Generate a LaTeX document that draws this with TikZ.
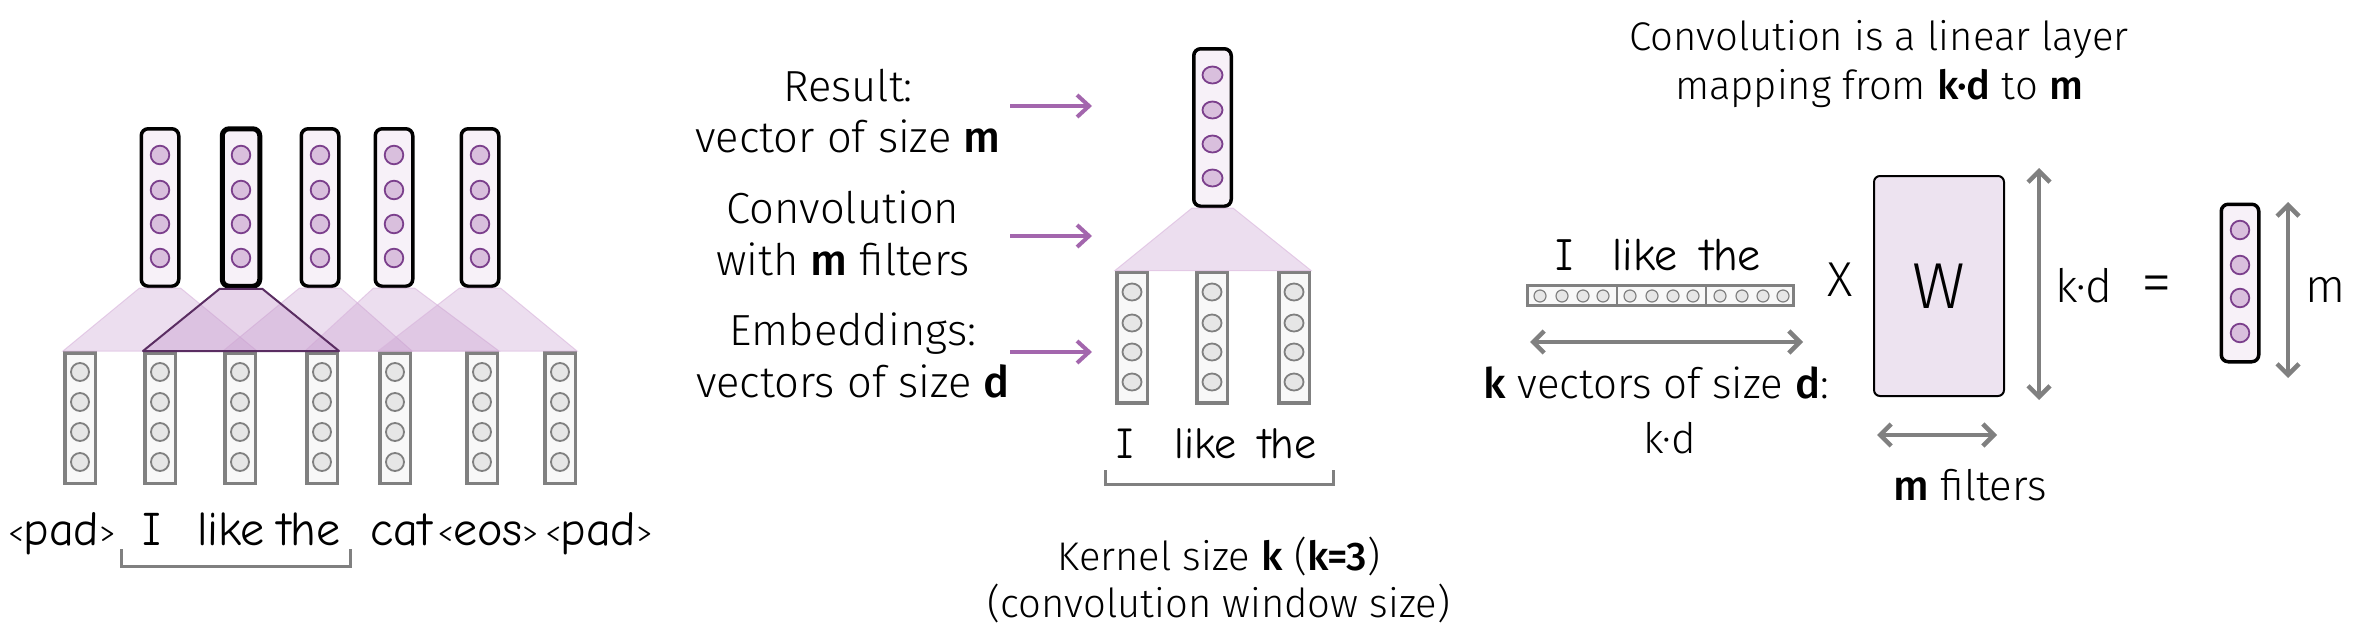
\documentclass[tikz,border=0pt]{standalone}
\usepackage{fontspec}
\usepackage{graphicx}
\IfFontExistsTF{Fira Sans Light}
  {\IfFontExistsTF{Fira Sans Medium}
     {\setmainfont{Fira Sans Light}[BoldFont={Fira Sans Medium}]}
     {\setmainfont{Fira Sans Light}[BoldFont={Fira Sans}]}}
  {\setmainfont{Fira Sans}}
\IfFontExistsTF{Comic Neue}
  {\newfontfamily\comicfont{Comic Neue}[BoldFont={* Bold}]\newcommand\cxs{1}}
  {\newfontfamily\comicfont{Poppins}\newcommand\cxs{0.86}}
\usetikzlibrary{arrows.meta}
\definecolor{pfill}{HTML}{F7F1F8}
\definecolor{pcircfill}{HTML}{D9BFDD}
\definecolor{pcircdraw}{HTML}{7B3F8C}
\definecolor{gdraw}{HTML}{808080}
\definecolor{gfill}{HTML}{F8F8F8}
\definecolor{gcircfill}{HTML}{E6E6E6}
\definecolor{trap}{HTML}{C9A0D0}
\definecolor{trapedge}{HTML}{D8B4DC}
\definecolor{hiedge}{HTML}{5A2D62}
\definecolor{arrowp}{HTML}{A366AD}
\definecolor{wfill}{HTML}{EDE3F0}
\newcommand\myfs[1]{\fontsize{#1}{#1}\selectfont}
\newcommand\cw[2]{\scalebox{\cxs}[1]{\comicfont\myfs{#1}#2}}
\newcommand\mylt{\raisebox{0.07em}{\scalebox{0.62}{<}}}
\newcommand\mygt{\raisebox{0.07em}{\scalebox{0.62}{>}}}
\begin{document}
\begin{tikzpicture}[x=1pt,y=-1pt,
  topvec/.style={rectangle,draw=black,line width=3.5pt,fill=pfill,rounded corners=7pt,minimum width=37.5pt,minimum height=157.5pt,inner sep=0pt},
  botvec/.style={rectangle,draw=gdraw,line width=3.5pt,fill=gfill,minimum width=30.5pt,minimum height=130.5pt,inner sep=0pt},
  pcirc/.style={draw=pcircdraw,fill=pcircfill,line width=1.8pt},
  gcirc/.style={draw=gdraw,fill=gcircfill,line width=1.8pt},
  trapez/.style={fill=trap,fill opacity=.35,draw=trapedge,draw opacity=.6,line width=1pt},
  hitrap/.style={fill=trap,fill opacity=.45,draw=hiedge,line width=2pt,line join=round},
  lbl/.style={anchor=base,inner sep=0pt,font=\myfs{43.5}},
  word/.style={anchor=base,inner sep=0pt},
  parrow/.style={draw=arrowp,line width=4pt,-{Straight Barb[length=12pt,width=22pt]}},
  garrow/.style={draw=gdraw,line width=4.5pt,{Straight Barb[length=11pt,width=22pt]}-{Straight Barb[length=11pt,width=22pt]}},
  bracket/.style={draw=gdraw,line width=3pt}
]
\useasboundingbox (0,0) rectangle (2354,638);

% ---------------- left part ----------------
\foreach \i/\x in {1/80,2/160,3/240,4/322,5/395,6/482,7/560}
  \node[botvec] (bv\i) at (\x,418) {};
\foreach \i/\x in {1/160,2/241,3/320,4/394,5/480}
  \node[topvec] (tv\i) at (\x,207.5) {};
\node[topvec,line width=5pt] (tv2) at (241,207.5) {};

\foreach \i/\a/\b in {1/1/3,3/3/5,4/4/6,5/5/7}
  \path[trapez] (tv\i.south west) -- (tv\i.south east) -- (bv\b.north east) -- (bv\a.north west) -- cycle;
\path[hitrap] (tv2.south west) -- (tv2.south east) -- (bv4.north east) -- (bv2.north west) -- cycle;

\foreach \x in {80,160,240,322,395,482,560}
  \foreach \y in {372,402,432,462}
    \draw[gcirc] (\x,\y) circle[radius=9pt];
\foreach \x in {160,241,320,394,480}
  \foreach \y in {155,190,224,258}
    \draw[pcirc] (\x,\y) circle[radius=9.3pt];

\node[word] (lw1) at (62,545) {\cw{48}{\mylt pad\mygt}};
\node[word] (lw2) at (152,545) {\cw{48}{I}};
\node[word] (lw3) at (231,545) {\cw{48}{like}};
\node[word] (lw4) at (309,545) {\cw{48}{the}};
\node[word] (lw5) at (401,545) {\cw{48}{cat}};
\node[word] (lw6) at (488,545) {\cw{48}{\mylt eos\mygt}};
\node[word] (lw7) at (599,545) {\cw{48}{\mylt pad\mygt}};

\coordinate (b1a) at (121,549); \coordinate (b1b) at (350,549);
\draw[bracket] (b1a) -- ++(0,17) -| (b1b);

% ---------------- middle part ----------------
\node[lbl] (r1) at (848,101) {Result:};
\node[lbl] (r2) at (848,152) {vector of size \textbf{m}};
\node[lbl] (c1) at (843,223) {Convolution};
\node[lbl] (c2) at (843,275) {with \textbf{m} filters};
\node[lbl] (e1) at (853,345) {Embeddings:};
\node[lbl] (e2) at (853,397) {vectors of size \textbf{d}};

\coordinate (a1s) at (1010,106); \coordinate (a1e) at (1092,106);
\coordinate (a2s) at (1010,236); \coordinate (a2e) at (1092,236);
\coordinate (a3s) at (1010,352); \coordinate (a3e) at (1092,352);
\draw[parrow] (a1s) -- (a1e);
\draw[parrow] (a2s) -- (a2e);
\draw[parrow] (a3s) -- (a3e);

\foreach \i/\x in {1/1132,2/1212,3/1294}
  \node[botvec] (mb\i) at (\x,337.5) {};
\node[topvec] (mt) at (1212.5,127.5) {};
\path[trapez] (mt.south west) -- (mt.south east) -- (mb3.north east) -- (mb1.north west) -- cycle;
\foreach \x in {1132,1212,1294}
  \foreach \y in {292,323,352,382}
    \draw[gcirc] (\x,\y) ellipse[x radius=9.5pt,y radius=8.5pt];
\foreach \y in {75,110,144,178}
  \draw[pcirc] (1212.5,\y) ellipse[x radius=10pt,y radius=8.5pt];

\node[word] (mw1) at (1125,458) {\cw{44}{I}};
\node[word] (mw2) at (1205.5,458) {\cw{44}{like}};
\node[word] (mw3) at (1287.5,458) {\cw{44}{the}};
\coordinate (b2a) at (1105,470); \coordinate (b2b) at (1333,470);
\draw[bracket] (b2a) -- ++(0,14) -| (b2b);

\node[anchor=base,inner sep=0pt,font=\myfs{40}] (k1) at (1219,570) {Kernel size \textbf{k} (\textbf{k=3})};
\node[anchor=base,inner sep=0pt,font=\myfs{40}] (k2) at (1219,617) {(convolution window size)};

% ---------------- right part ----------------
\node[anchor=base,inner sep=0pt,font=\myfs{40}] (t1) at (1879,50) {Convolution is a linear layer};
\node[anchor=base,inner sep=0pt,font=\myfs{40}] (t2) at (1879,99) {mapping from \textbf{k·d} to \textbf{m}};

\node[word] (rw1) at (1564,270) {\cw{46}{I}};
\node[word] (rw2) at (1645,270) {\cw{46}{like}};
\node[word] (rw3) at (1730.5,270) {\cw{46}{the}};

\node[rectangle,draw=gdraw,line width=3pt,fill=gfill,minimum width=266pt,minimum height=20pt,inner sep=0pt] (lv) at (1660.5,295.5) {};
\coordinate (d1a) at (1617,285.5); \coordinate (d1b) at (1617,305.5);
\coordinate (d2a) at (1706,285.5); \coordinate (d2b) at (1706,305.5);
\draw[draw=gdraw,line width=2.5pt] (d1a) -- (d1b);
\draw[draw=gdraw,line width=2.5pt] (d2a) -- (d2b);
\foreach \x in {1540,1562,1583,1603,1630,1652,1673,1693,1720,1742,1763,1783}
  \draw[draw=gdraw,fill=gcircfill,line width=1.2pt] (\x,296) circle[radius=6pt];

\coordinate (h1a) at (1530,342); \coordinate (h1b) at (1803,342);
\draw[garrow] (h1a) -- (h1b);
\node[anchor=base,inner sep=0pt,font=\myfs{42}] (kv) at (1656,398) {\textbf{k} vectors of size \textbf{d}:};
\node[anchor=base,inner sep=0pt,font=\myfs{42}] (kd1) at (1670,453) {k·d};

\node[inner sep=0pt,font=\myfs{49}] (X) at (1840,280) {X};
\node[rectangle,draw=black,line width=2pt,fill=wfill,rounded corners=6pt,minimum width=130pt,minimum height=220pt,inner sep=0pt,font=\myfs{65}] (W) at (1939,286) {W};

\coordinate (v1a) at (2039,168); \coordinate (v1b) at (2039,400);
\draw[garrow] (v1a) -- (v1b);
\node[anchor=base west,inner sep=0pt,font=\myfs{46}] (kd2) at (2055,302) {k·d};

\coordinate (h2a) at (1877,435); \coordinate (h2b) at (1997,435);
\draw[garrow] (h2a) -- (h2b);
\node[anchor=base,inner sep=0pt,font=\myfs{42}] (mf) at (1970,500) {\textbf{m} filters};

\node[inner sep=0pt,font=\myfs{62}] (eq) at (2157,290) {=};
\node[topvec] (rv) at (2240,283) {};
\foreach \y in {230,265,298,333}
  \draw[pcirc] (2240,\y) circle[radius=9.3pt];
\coordinate (v2a) at (2288,202); \coordinate (v2b) at (2288,378);
\draw[garrow] (v2a) -- (v2b);
\node[anchor=base,inner sep=0pt,font=\myfs{47}] (mm) at (2326,302) {m};
\end{tikzpicture}
\end{document}
